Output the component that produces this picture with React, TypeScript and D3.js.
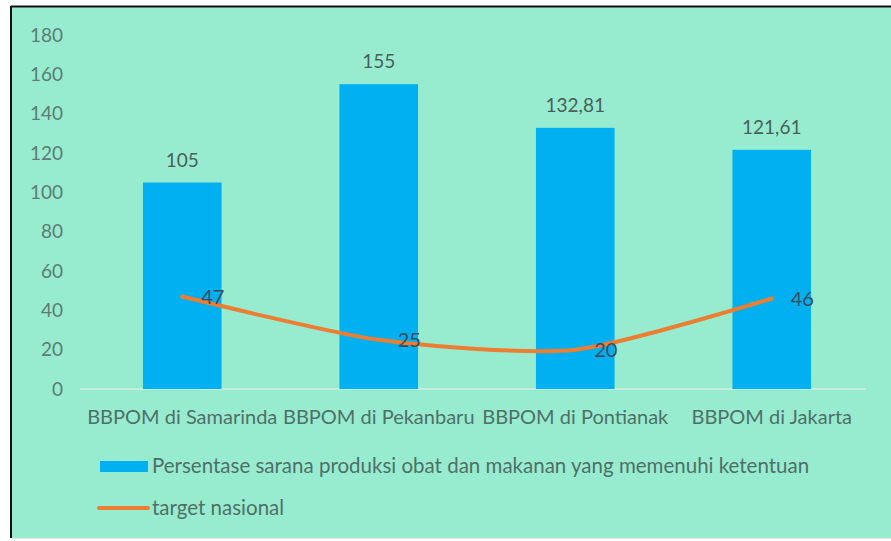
import React from "react";
import * as d3 from "d3";

const categories = [
  "BBPOM di Samarinda",
  "BBPOM di Pekanbaru",
  "BBPOM di Pontianak",
  "BBPOM di Jakarta",
];
const persentase = [105, 155, 132.81, 121.61];
const persentaseLabels = ["105", "155", "132,81", "121,61"];
const target = [47, 25, 20, 46];
const yTicks = [0, 20, 40, 60, 80, 100, 120, 140, 160, 180];
const legendLabels = [
  "Persentase sarana produksi obat dan makanan yang memenuhi ketentuan",
  "target nasional",
];

const W = 891;
const H = 541;
const FONT = "Lato, 'Open Sans', sans-serif";

const App = () => {
  const x = d3.scaleBand().domain(categories).range([84, 870]).padding(0);
  const y = d3.scaleLinear().domain([0, 180]).range([389, 35]);
  const barW = x.bandwidth() * 0.4;
  const cx = (c: string) => (x(c) as number) + x.bandwidth() / 2;

  const line = d3
    .line<number>()
    .x((d, i) => cx(categories[i]))
    .y((d) => y(d))
    .curve(d3.curveCardinal.tension(0.3));

  return (
    <svg
      width={W}
      height={H}
      style={{ position: "absolute", left: 0, top: 0, fontFamily: FONT }}
    >
      <rect x={0} y={0} width={W} height={H} fill="#ffffff" />
      <rect x={11} y={7} width={W - 11} height={531} fill="#97ecd0" />
      <line x1={11} y1={6.5} x2={W} y2={6.5} stroke="#111" strokeWidth={2} />
      <line x1={11} y1={6} x2={11} y2={538} stroke="#111" strokeWidth={2} />
      <line x1={11} y1={538.5} x2={W} y2={538.5} stroke="#d8e8e2" strokeWidth={1} />

      {yTicks.map((t) => (
        <text
          key={t}
          x={63}
          y={y(t)}
          dy="0.35em"
          textAnchor="end"
          fontSize={19}
          fill="#5d7c73"
        >
          {t}
        </text>
      ))}

      <line x1={80} y1={y(0)} x2={866} y2={y(0)} stroke="#c2eedf" strokeWidth={2} />

      {categories.map((c, i) => (
        <g key={c}>
          <rect
            x={cx(c) - barW / 2}
            y={y(persentase[i])}
            width={barW}
            height={y(0) - y(persentase[i])}
            fill="#00b0f0"
          />
          <text
            x={cx(c)}
            y={y(persentase[i]) - 16}
            textAnchor="middle"
            fontSize={19}
            fill="#4a5f59"
          >
            {persentaseLabels[i]}
          </text>
          <text
            x={cx(c)}
            y={424}
            textAnchor="middle"
            fontSize={20}
            fill="#4f7067"
          >
            {c}
          </text>
        </g>
      ))}

      <path
        d={line(target) as string}
        fill="none"
        stroke="#ed7d31"
        strokeWidth={4}
        strokeLinecap="round"
      />
      {target.map((v, i) => (
        <text
          key={i}
          x={cx(categories[i]) + 19}
          y={y(v)}
          dy="0.35em"
          fontSize={20}
          fill="#3d4a5e"
        >
          {v}
        </text>
      ))}

      <rect x={100} y={461} width={48} height={11} fill="#00b0f0" />
      <text x={152} y={466} dy="0.35em" fontSize={20.5} fill="#4f7067">
        {legendLabels[0]}
      </text>
      <line x1={99} y1={508} x2={148} y2={508} stroke="#ed7d31" strokeWidth={4} strokeLinecap="round" />
      <text x={152} y={508} dy="0.35em" fontSize={20.5} fill="#4f7067">
        {legendLabels[1]}
      </text>
    </svg>
  );
};

export default App;
